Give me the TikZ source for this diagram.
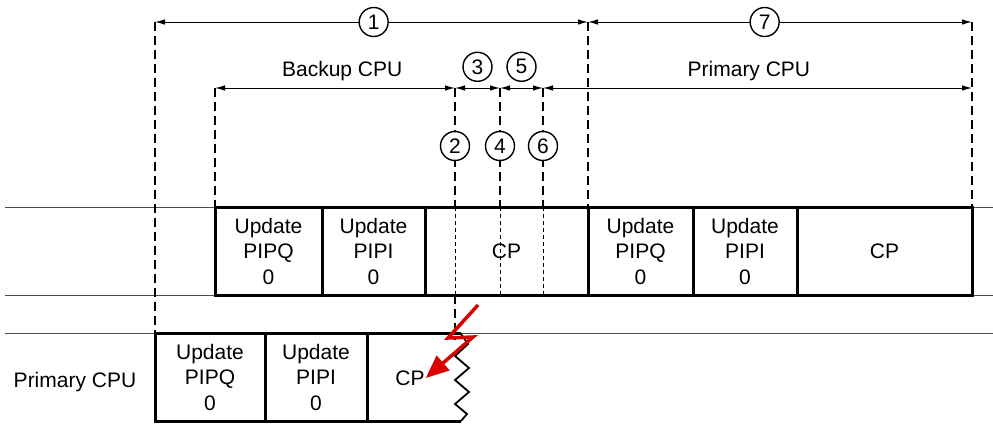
\documentclass[tikz,border=0pt]{standalone}
\usepackage{fontspec}
\setmainfont{Liberation Sans}
\usetikzlibrary{arrows.meta, positioning}

\tikzset{
  track/.style={draw=black!70, line width=0.9pt},
  slot/.style={draw, line width=3pt, outer sep=0pt, inner sep=0pt,
               minimum height=88pt, align=center,
               font=\fontsize{21}{25.5}\selectfont},
  cutline/.style={line width=2pt, dash pattern=on 9pt off 5pt},
  incut/.style={line width=0.8pt, dash pattern=on 4pt off 3pt},
  dimline/.style={line width=1pt, {Latex[length=10pt,width=5.5pt]}-{Latex[length=10pt,width=5.5pt]}},
  num/.style={circle, draw, line width=1.4pt, fill=white, inner sep=0pt,
              minimum size=29pt, font=\fontsize{21}{21}\selectfont},
  lbl/.style={font=\fontsize{21}{21}\selectfont},
  fault/.style={draw=red!85!black, line width=3.5pt,
                -{Triangle[length=23pt,width=19pt]}}
}

\begin{document}
\begin{tikzpicture}[x=1pt,y=-1pt]
  \useasboundingbox (0,0) rectangle (993,423);

  % time lines
  \draw[track] (5,207) -- (993,207);
  \draw[track] (5,295) -- (993,295);
  \draw[track] (5,333) -- (993,333);

  % backup CPU cycles
  \node[slot, minimum width=107pt, anchor=north west] (bq1) at (215,207) {Update\\PIPQ\\0};
  \node[slot, minimum width=103pt, right=0pt of bq1] (bi1) {Update\\PIPI\\0};
  \node[slot, minimum width=163pt, right=0pt of bi1] (bc1) {CP};
  \node[slot, minimum width=105pt, right=0pt of bc1] (bq2) {Update\\PIPQ\\0};
  \node[slot, minimum width=104pt, right=0pt of bq2] (bi2) {Update\\PIPI\\0};
  \node[slot, minimum width=175pt, right=0pt of bi2] (bc2) {CP};

  % primary CPU cycle, cut off
  \node[lbl] (plabel) at (75,382) {Primary CPU};
  \node[slot, minimum width=110pt, anchor=north west] (pq) at (155,333) {Update\\PIPQ\\0};
  \node[slot, minimum width=102pt, right=0pt of pq] (pi) {Update\\PIPI\\0};
  \node[lbl, inner sep=1pt] (pcp) at (410,378) {CP};
  \draw[line width=3pt] (pi.north east) -- (461,333);
  \draw[line width=3pt] (pi.south east) -- (461,421);
  \draw[line width=1.8pt, line join=miter]
    (461,334) -- (468,344) -- (455,356) -- (469,368) -- (455,380)
    -- (469,392) -- (455,404) -- (467,414) -- (461,421);

  % marks
  \coordinate (t0) at (155,22);
  \coordinate (t1) at (588,22);
  \coordinate (t2) at (972,22);
  \coordinate (s0) at (215,88);
  \coordinate (s1) at (455,88);
  \coordinate (s2) at (500,88);
  \coordinate (s3) at (543,88);
  \coordinate (s4) at (972,88);

  \draw[cutline] (t0) -- (pq.north west);
  \draw[cutline] (s0) -- (bq1.north west);
  \draw[cutline] (t1) -- (bc1.north east);
  \draw[cutline] (t2) -- (bc2.north east);
  \foreach \s in {s1,s2,s3}{
    \draw[cutline] (\s) -- (\s |- bc1.north);
    \draw[incut] (\s |- bc1.north) -- (\s |- bc1.south);
  }
  \draw[cutline] (s1 |- bc1.south) -- (455,340);

  % spans
  \draw[dimline] (t0) -- (t1) node[num, pos=0.505] (n1) {1};
  \draw[dimline] (t1) -- (t2) node[num, pos=0.46] (n7) {7};
  \draw[dimline] (s0) -- (s1) node[lbl, above=3pt, pos=0.53] (blabel) {Backup CPU};
  \draw[dimline] (s1) -- (s2) node[num, above=6pt, midway] (n3) {3};
  \draw[dimline] (s2) -- (s3) node[num, above=6pt, midway] (n5) {5};
  \draw[dimline] (s3) -- (s4) node[lbl, above=3pt, pos=0.48] (plabel2) {Primary CPU};

  \node[num] (n2) at (455,146) {2};
  \node[num] (n4) at (500,146) {4};
  \node[num] (n6) at (543,146) {6};

  % failure
  \draw[fault, line join=miter] (478,305) -- (448,338) -- (473,337) -- (pcp.east);
\end{tikzpicture}
\end{document}
